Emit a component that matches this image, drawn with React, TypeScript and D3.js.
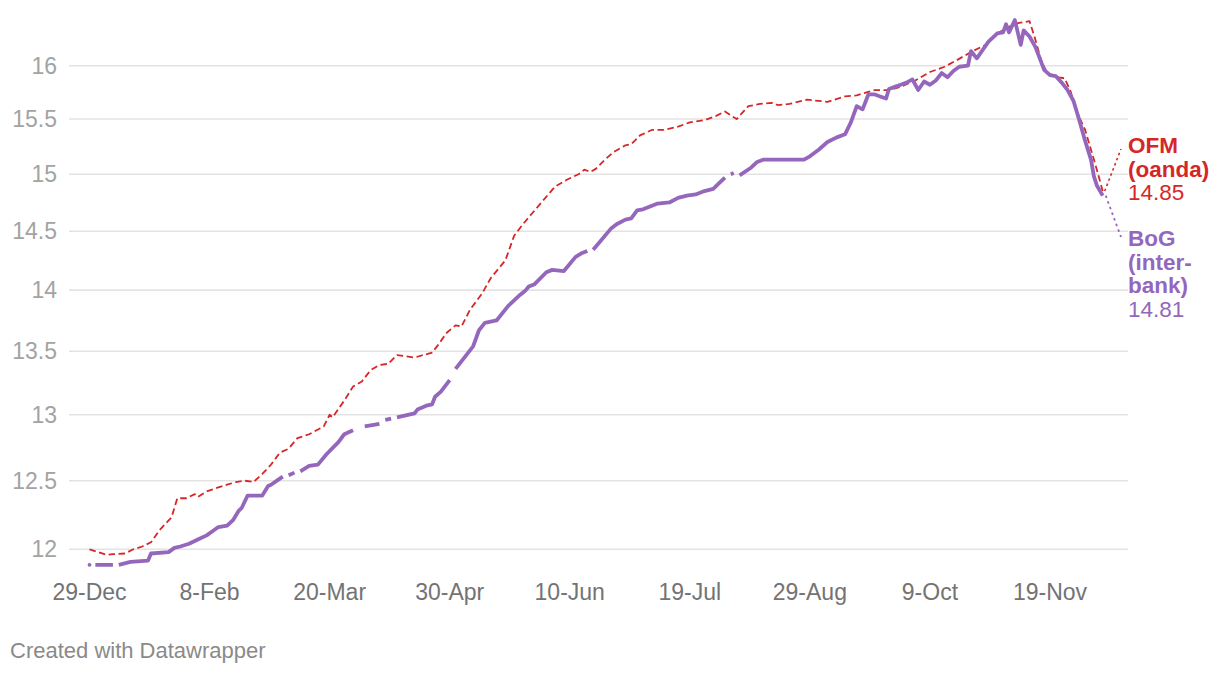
import React from "react";
import * as d3 from "d3";

// x axis: day index from 29-Dec (one tick every 41 rows)
const tickLabels = ["29-Dec", "8-Feb", "20-Mar", "30-Apr", "10-Jun", "19-Jul", "29-Aug", "9-Oct", "19-Nov"];
const tickDays = [0, 41, 82, 123, 164, 205, 246, 287, 328];
const yTicks = [12, 12.5, 13, 13.5, 14, 14.5, 15, 15.5, 16];

// OFM (oanda) rate
const ofmDay = [0, 3, 6, 8, 12, 15, 18, 21, 24, 28, 30, 33, 36, 37, 40, 44, 47, 50, 53, 56, 59, 62, 65, 68, 71, 75, 80, 82, 83, 87, 90, 93, 96, 99, 102, 105, 108, 111, 114, 117, 119, 122, 125, 127, 130, 134, 137, 142, 145, 148, 152, 155, 159, 163, 167, 169, 171, 173, 176, 179, 183, 185, 188, 192, 196, 201, 205, 210, 214, 217, 221, 225, 229, 233, 235, 239, 245, 252, 258, 262, 268, 273, 277, 282, 287, 292, 296, 301, 306, 310, 315, 317, 321, 323, 325, 327, 331, 333, 335, 337, 340, 342, 344, 346];
const ofmRate = [12.0, 11.98, 11.96, 11.965, 11.97, 12.0, 12.02, 12.05, 12.14, 12.23, 12.37, 12.37, 12.4, 12.38, 12.42, 12.45, 12.47, 12.49, 12.5, 12.49, 12.55, 12.62, 12.71, 12.74, 12.82, 12.85, 12.91, 13.0, 12.98, 13.11, 13.22, 13.26, 13.35, 13.39, 13.4, 13.47, 13.46, 13.45, 13.47, 13.49, 13.55, 13.65, 13.71, 13.7, 13.84, 13.97, 14.1, 14.25, 14.46, 14.56, 14.68, 14.77, 14.89, 14.95, 15.0, 15.04, 15.02, 15.05, 15.13, 15.2, 15.26, 15.27, 15.35, 15.4, 15.4, 15.43, 15.47, 15.49, 15.53, 15.57, 15.5, 15.62, 15.64, 15.65, 15.63, 15.64, 15.68, 15.66, 15.71, 15.72, 15.77, 15.77, 15.8, 15.86, 15.94, 15.99, 16.05, 16.13, 16.2, 16.31, 16.39, 16.41, 16.43, 16.25, 16.05, 15.93, 15.89, 15.88, 15.76, 15.58, 15.4, 15.22, 15.04, 14.85];

// BoG (inter-bank) rate, null = missing day
const bogDay = [0, 1, 2, 8, 9, 10, 14, 20, 21, 27, 29, 31, 34, 37, 40, 42, 44, 47, 49, 51, 52, 54, 59, 61, 62, 64, 66, 67, 68, 70, 71, 72, 75, 78, 81, 85, 87, 90, 91, 92, 94, 99, 100, 101, 103, 104, 105, 111, 112, 115, 117, 118, 120, 123, 124, 125, 129, 130, 131, 133, 135, 137, 139, 143, 147, 149, 150, 152, 156, 158, 162, 166, 168, 170, 171, 172, 178, 180, 183, 185, 187, 189, 191, 194, 198, 201, 204, 207, 210, 213, 215, 217, 218, 219, 220, 221, 222, 226, 228, 230, 235, 240, 244, 246, 249, 252, 255, 258, 260, 262, 264, 266, 268, 270, 272, 273, 275, 277, 279, 281, 283, 285, 287, 289, 291, 293, 295, 297, 300, 301, 303, 307, 310, 312, 313, 314, 316, 318, 319, 321, 323, 326, 328, 330, 332, 334, 336, 338, 340, 342, 343, 344, 346];
const bogRate = [11.89, null, 11.89, 11.89, null, 11.89, 11.91, 11.92, 11.97, 11.98, 12.01, 12.02, 12.04, 12.07, 12.1, 12.13, 12.16, 12.17, 12.21, 12.28, 12.3, 12.39, 12.39, 12.46, 12.47, 12.5, 12.53, null, 12.54, 12.56, null, 12.57, 12.61, 12.62, 12.7, 12.79, 12.85, 12.88, null, null, 12.91, 12.93, null, 12.96, 12.97, null, 12.98, 13.01, 13.04, 13.07, 13.08, 13.14, 13.18, 13.27, null, 13.36, 13.48, 13.51, 13.54, 13.67, 13.73, 13.74, 13.75, 13.87, 13.96, 14.0, 14.03, 14.05, 14.15, 14.17, 14.16, 14.28, 14.31, 14.33, null, 14.34, 14.52, 14.56, 14.6, 14.61, 14.68, 14.69, 14.71, 14.74, 14.75, 14.79, 14.81, 14.82, 14.85, 14.87, 14.92, 14.97, null, 15.0, 15.01, null, 14.99, 15.06, 15.11, 15.13, 15.13, 15.13, 15.13, 15.16, 15.22, 15.29, 15.33, 15.36, 15.47, 15.62, 15.59, 15.73, 15.73, 15.71, 15.69, 15.78, 15.8, 15.82, 15.84, 15.87, 15.77, 15.85, 15.82, 15.86, 15.93, 15.89, 15.95, 15.99, 16.0, 16.14, 16.07, 16.23, 16.31, 16.32, 16.4, 16.32, 16.44, 16.2, 16.34, 16.28, 16.18, 15.96, 15.91, 15.9, 15.84, 15.77, 15.67, 15.49, 15.3, 15.13, 14.98, 14.9, 14.81];

const ofmLabel = ["OFM", "(oanda)"];
const ofmLast = "14.85";
const bogLabel = ["BoG", "(inter-", "bank)"];
const bogLast = "14.81";

const RED = "#d62728";
const PURPLE = "#9467bd";
const FONT = "'Liberation Sans', Arial, Helvetica, sans-serif";

type Pt = { d: number; v: number | null };

export default function App() {
  const W = 1220;
  const H = 674;
  const x = d3.scaleLinear().domain([0, 328]).range([89.5, 1050]);
  const y = d3.scaleLog().domain([12, 16]).range([549.3, 65.7]);
  const gridX0 = 69;
  const gridX1 = 1128;

  const ofm: Pt[] = ofmDay.map((d, i) => ({ d, v: ofmRate[i] }));
  const bog: Pt[] = bogDay.map((d, i) => ({ d, v: bogRate[i] }));

  const line = d3
    .line<Pt>()
    .defined((p) => p.v != null)
    .x((p) => x(p.d))
    .y((p) => y(p.v as number));

  const isolated = bog.filter(
    (p, i) =>
      p.v != null &&
      (i === 0 || bog[i - 1].v == null) &&
      (i === bog.length - 1 || bog[i + 1].v == null)
  );

  const ofmEnd = ofm[ofm.length - 1];
  const bogEnd = bog[bog.length - 1];
  const labelX = 1128;
  const fs = 23;
  const lfs = 22.5;
  const lh = 23.5;
  const ofmBase = 153;
  const bogBase = 246;

  return (
    <svg
      width={W}
      height={H}
      style={{ position: "absolute", left: 0, top: 0, background: "#fff" }}
      fontFamily={FONT}
    >
      <rect width={W} height={H} fill="#fff" />
      {/* grid + y labels */}
      {yTicks.map((t) => (
        <g key={t}>
          <line x1={gridX0} x2={gridX1} y1={y(t)} y2={y(t)} stroke="#e3e3e3" strokeWidth={1.6} />
          <text x={57} y={y(t) + 8} textAnchor="end" fontSize={fs} fill="#a3a3a3">
            {t}
          </text>
        </g>
      ))}
      {/* x labels */}
      {tickDays.map((d, i) => (
        <text key={d} x={x(d)} y={600} textAnchor="middle" fontSize={fs} fill="#737373">
          {tickLabels[i]}
        </text>
      ))}

      {/* OFM dashed red line */}
      <path
        d={line(ofm) || ""}
        fill="none"
        stroke={RED}
        strokeWidth={1.8}
        strokeDasharray="6.5 3.5"
        strokeLinejoin="round"
      />
      {/* BoG solid purple line with gaps */}
      <path
        d={line(bog) || ""}
        fill="none"
        stroke={PURPLE}
        strokeWidth={3.8}
        strokeLinejoin="round"
        strokeLinecap="butt"
      />
      {isolated.map((p) => (
        <circle key={p.d} cx={x(p.d)} cy={y(p.v as number)} r={1.9} fill={PURPLE} />
      ))}

      {/* connectors */}
      <line
        x1={x(ofmEnd.d) + 2}
        y1={y(ofmEnd.v as number)}
        x2={labelX - 7}
        y2={ofmBase - 4}
        stroke={RED}
        strokeWidth={1.6}
        strokeDasharray="2.5 3"
      />
      <line
        x1={x(bogEnd.d) + 3}
        y1={y(bogEnd.v as number)}
        x2={labelX - 7}
        y2={bogBase - 9}
        stroke={PURPLE}
        strokeWidth={1.8}
        strokeDasharray="2.5 3.5"
      />

      {/* labels */}
      {ofmLabel.map((s, i) => (
        <text key={s} x={labelX} y={ofmBase + i * lh} fontSize={lfs} fontWeight="bold" fill={RED}>
          {s}
        </text>
      ))}
      <text x={labelX} y={ofmBase + ofmLabel.length * lh} fontSize={lfs} fill={RED}>
        {ofmLast}
      </text>
      {bogLabel.map((s, i) => (
        <text key={s} x={labelX} y={bogBase + i * lh} fontSize={lfs} fontWeight="bold" fill={PURPLE}>
          {s}
        </text>
      ))}
      <text x={labelX} y={bogBase + bogLabel.length * lh} fontSize={lfs} fill={PURPLE}>
        {bogLast}
      </text>

      <text x={10} y={658} fontSize={22} fill="#8a8a8a">
        Created with Datawrapper
      </text>
    </svg>
  );
}
